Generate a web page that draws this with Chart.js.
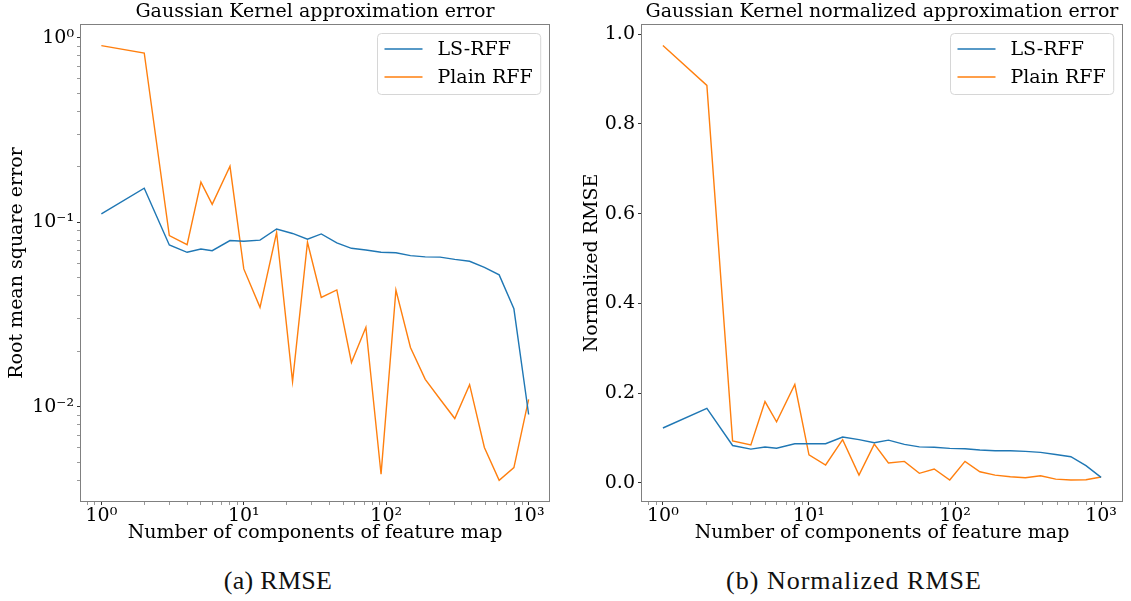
<!DOCTYPE html>
<html>
<head>
<meta charset="utf-8">
<script src="https://cdn.jsdelivr.net/npm/chart.js@4.4.1/dist/chart.umd.min.js"></script>
<style>
  html, body { margin: 0; padding: 0; background: #ffffff; }
  #page { position: relative; width: 1131px; height: 601px; overflow: hidden; background: #fff; }
  .panel { position: absolute; top: 0; height: 560px; }
  .caption { position: absolute; font-family: 'Liberation Serif', serif; font-size: 26px; line-height: 30px; color: #111; text-align: center; white-space: nowrap; }
</style>
</head>
<body>
<div id="page">
  <div class="panel" style="left:0px;width:565px;"><canvas id="c1"></canvas></div>
  <div class="panel" style="left:565px;width:566px;"><canvas id="c2"></canvas></div>
  <div class="caption" style="left:128px;width:300px;top:566px;letter-spacing:0.3px;">(a) RMSE</div>
  <div class="caption" style="left:704px;width:300px;top:566px;letter-spacing:1px;">(b) Normalized RMSE</div>
</div>
<script>
// ---------------- data ----------------
const components = [1, 2, 3, 4, 5, 6, 8, 10, 13, 17, 22, 28, 35, 45, 57, 72, 92, 117, 148, 188, 239, 303, 385, 489, 621, 788, 1000];

const seriesNames = ['LS-RFF', 'Plain RFF'];

const rmseLS = [0.111, 0.153, 0.0754, 0.0688, 0.0717, 0.0702, 0.0796, 0.0789, 0.0800, 0.092, 0.087, 0.081, 0.0865, 0.0773, 0.0723, 0.0708, 0.0688, 0.0684, 0.066, 0.065, 0.0648, 0.063, 0.0615, 0.057, 0.0519, 0.034, 0.0091];
const rmsePlain = [0.905, 0.826, 0.0847, 0.0757, 0.165, 0.125, 0.201, 0.0559, 0.0346, 0.088, 0.0137, 0.078, 0.0392, 0.043, 0.0174, 0.027, 0.00432, 0.043, 0.021, 0.0141, 0.0110, 0.00865, 0.0132, 0.00603, 0.0040, 0.00469, 0.0110];

const nrmseLS = [0.122, 0.166, 0.083, 0.075, 0.0796, 0.077, 0.087, 0.087, 0.087, 0.102, 0.096, 0.089, 0.095, 0.0855, 0.080, 0.079, 0.0766, 0.0759, 0.073, 0.0714, 0.0714, 0.070, 0.0677, 0.063, 0.058, 0.038, 0.012];
const nrmsePlain = [0.975, 0.886, 0.093, 0.084, 0.181, 0.136, 0.219, 0.062, 0.0395, 0.096, 0.017, 0.086, 0.044, 0.0476, 0.021, 0.0305, 0.006, 0.0476, 0.0245, 0.017, 0.0134, 0.011, 0.0156, 0.008, 0.006, 0.0066, 0.0127];

// ticks
const xMajorTicks = [1, 10, 100, 1000];
const xTickLabels = ['10⁰', '10¹', '10²', '10³'];
const xMinorTicks = [0.8, 0.9, 2, 3, 4, 5, 6, 7, 8, 9, 20, 30, 40, 50, 60, 70, 80, 90, 200, 300, 400, 500, 600, 700, 800, 900];

const yLogMajorTicks = [0.01, 0.1, 1];
const yLogTickLabels = ['10⁻²', '10⁻¹', '10⁰'];
const yLogMinorTicks = [0.004, 0.005, 0.006, 0.007, 0.008, 0.009, 0.02, 0.03, 0.04, 0.05, 0.06, 0.07, 0.08, 0.09, 0.2, 0.3, 0.4, 0.5, 0.6, 0.7, 0.8, 0.9];

const yLinTicks = [0, 0.2, 0.4, 0.6, 0.8, 1.0];
const yLinTickLabels = ['0.0', '0.2', '0.4', '0.6', '0.8', '1.0'];

const titles = ['Gaussian Kernel approximation error', 'Gaussian Kernel normalized approximation error'];
const yTitles = ['Root mean square error', 'Normalized RMSE'];
const xTitle = 'Number of components of feature map';

// ---------------- styling ----------------
const FONT = "'DejaVu Serif', serif";
const BLUE = '#1f77b4';
const ORANGE = '#ff7f0e';

function approxIn(arr, v) {
  return arr.some(a => Math.abs(a - v) / a < 1e-6);
}
function labelFor(majors, labels, v) {
  for (let i = 0; i < majors.length; i++) {
    if (Math.abs(majors[i] - v) <= Math.abs(majors[i]) * 1e-6 + 1e-12) return labels[i];
  }
  return '';
}
function toTicks(majors, minors) {
  return majors.concat(minors).sort((a, b) => a - b).map(v => ({ value: v, major: approxIn(majors, v) }));
}

const frameLegend = {
  id: 'frameLegend',
  afterDraw(chart) {
    const { ctx, chartArea: a } = chart;
    ctx.save();
    // frame (spines)
    ctx.strokeStyle = '#808080';
    ctx.lineWidth = 1;
    const l = Math.round(a.left) + 0.5, t = Math.round(a.top) + 0.5;
    const r = Math.round(a.right) - 0.5, b = Math.round(a.bottom) - 0.5;
    ctx.strokeRect(l, t, r - l, b - t);

    // legend
    ctx.font = '19px ' + FONT;
    const ds = chart.data.datasets;
    const tw = Math.max(...ds.map(d => ctx.measureText(d.label).width));
    const w = 60 + tw + 8, h = 61;
    const x = Math.round(a.right - 10 - w) + 0.5, y = Math.round(a.top + 9) + 0.5;
    const rad = 4;
    ctx.beginPath();
    ctx.moveTo(x + rad, y);
    ctx.lineTo(x + w - rad, y);
    ctx.arcTo(x + w, y, x + w, y + rad, rad);
    ctx.lineTo(x + w, y + h - rad);
    ctx.arcTo(x + w, y + h, x + w - rad, y + h, rad);
    ctx.lineTo(x + rad, y + h);
    ctx.arcTo(x, y + h, x, y + h - rad, rad);
    ctx.lineTo(x, y + rad);
    ctx.arcTo(x, y, x + rad, y, rad);
    ctx.closePath();
    ctx.fillStyle = 'rgba(255,255,255,0.8)';
    ctx.fill();
    ctx.strokeStyle = '#d6d6d6';
    ctx.lineWidth = 1;
    ctx.stroke();
    ds.forEach((d, i) => {
      const cy = Math.round(y + 15 + 28 * i);
      ctx.strokeStyle = d.borderColor;
      ctx.lineWidth = 1.4;
      ctx.beginPath();
      ctx.moveTo(x + 7, cy);
      ctx.lineTo(x + 45, cy);
      ctx.stroke();
      ctx.fillStyle = '#000';
      ctx.textBaseline = 'middle';
      ctx.textAlign = 'left';
      ctx.fillText(d.label, x + 60, cy + 1);
    });
    ctx.restore();
  }
};

function makeDatasets(lsVals, plainVals) {
  return [
    { label: seriesNames[0], data: components.map((c, i) => ({ x: c, y: lsVals[i] })), borderColor: BLUE, backgroundColor: BLUE, borderWidth: 1.4, pointRadius: 0, tension: 0, fill: false },
    { label: seriesNames[1], data: components.map((c, i) => ({ x: c, y: plainVals[i] })), borderColor: ORANGE, backgroundColor: ORANGE, borderWidth: 1.4, pointRadius: 0, tension: 0, fill: false }
  ];
}

function xScale() {
  return {
    type: 'logarithmic',
    bounds: 'data',
    min: Math.pow(10, -0.15),
    max: Math.pow(10, 3.15),
    afterBuildTicks: s => { s.ticks = toTicks(xMajorTicks, xMinorTicks); },
    afterFit: s => { s.height = 58; },
    ticks: {
      autoSkip: false, maxRotation: 0, minRotation: 0, padding: 0, color: '#000',
      font: { family: FONT, size: 19 },
      callback: v => labelFor(xMajorTicks, xTickLabels, v)
    },
    grid: {
      display: true, drawOnChartArea: false, drawTicks: true, tickLength: 3,
      tickColor: c => (c.tick && approxIn(xMajorTicks, c.tick.value)) ? '#333' : '#999',
      tickWidth: 1
    },
    border: { display: false },
    title: { display: true, text: xTitle, color: '#000', font: { family: FONT, size: 19 }, padding: { top: 0, bottom: 16 } }
  };
}

function commonOptions(titleText) {
  return {
    responsive: true,
    maintainAspectRatio: false,
    animation: false,
    events: [],
    layout: { padding: { left: 0, right: 15, top: 0, bottom: 0 } },
    plugins: {
      legend: { display: false },
      tooltip: { enabled: false },
      title: {
        display: true, text: titleText, color: '#000', fullSize: false,
        font: { family: FONT, size: 19, weight: 'normal' },
        padding: { top: 1, bottom: 0.2 }
      }
    }
  };
}

// ---------------- chart (a) ----------------
const opt1 = commonOptions(titles[0]);
opt1.scales = {
  x: xScale(),
  y: {
    type: 'logarithmic',
    bounds: 'data',
    min: Math.pow(10, -2.515),
    max: Math.pow(10, 0.074),
    afterBuildTicks: s => { s.ticks = toTicks(yLogMajorTicks, yLogMinorTicks); },
    afterFit: s => { s.width = 80; },
    ticks: {
      autoSkip: false, padding: 3, color: '#000',
      font: { family: FONT, size: 19 },
      callback: v => labelFor(yLogMajorTicks, yLogTickLabels, v)
    },
    grid: {
      display: true, drawOnChartArea: false, drawTicks: true, tickLength: 3,
      tickColor: c => (c.tick && approxIn(yLogMajorTicks, c.tick.value)) ? '#333' : '#999',
      tickWidth: 1
    },
    border: { display: false },
    title: { display: true, text: yTitles[0], color: '#000', font: { family: FONT, size: 19 }, padding: { top: 6, bottom: 0 } }
  }
};
new Chart(document.getElementById('c1'), {
  type: 'line',
  data: { datasets: makeDatasets(rmseLS, rmsePlain) },
  options: opt1,
  plugins: [frameLegend]
});

// ---------------- chart (b) ----------------
const opt2 = commonOptions(titles[1]);
opt2.layout.padding.right = 8;
opt2.scales = {
  x: xScale(),
  y: {
    type: 'linear',
    bounds: 'data',
    min: -0.043,
    max: 1.023,
    afterBuildTicks: s => { s.ticks = yLinTicks.map(v => ({ value: v })); },
    afterFit: s => { s.width = 76; },
    ticks: {
      autoSkip: false, padding: 3, color: '#000',
      font: { family: FONT, size: 19 },
      callback: v => labelFor(yLinTicks.map(t => t + 10), yLinTickLabels, v + 10)
    },
    grid: {
      display: true, drawOnChartArea: false, drawTicks: true, tickLength: 3,
      tickColor: '#333', tickWidth: 1
    },
    border: { display: false },
    title: { display: true, text: yTitles[1], color: '#000', font: { family: FONT, size: 19 }, padding: { top: 16, bottom: 0 } }
  }
};
new Chart(document.getElementById('c2'), {
  type: 'line',
  data: { datasets: makeDatasets(nrmseLS, nrmsePlain) },
  options: opt2,
  plugins: [frameLegend]
});
</script>
</body>
</html>
